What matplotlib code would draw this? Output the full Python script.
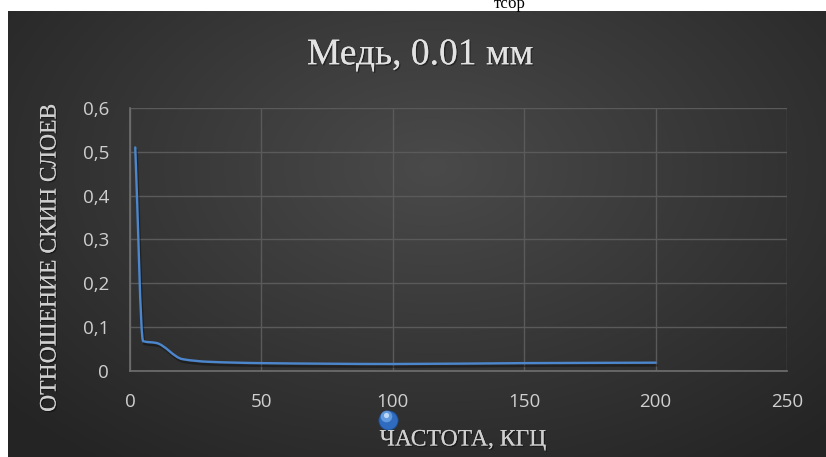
import matplotlib
matplotlib.use("Agg")
import matplotlib.pyplot as plt
import matplotlib.patheffects as pe
from matplotlib.path import Path
from matplotlib.patches import PathPatch
from matplotlib.ticker import FuncFormatter, MultipleLocator
import numpy as np

# частота, кГц / отношение скин слоев
freq = [2, 5, 10, 20, 30, 50, 100, 150, 200]
ratio = [0.51, 0.068, 0.064, 0.027, 0.021, 0.018, 0.016, 0.018, 0.019]

title = "Медь, 0.01 мм"
xlabel = "ЧАСТОТА, КГЦ"
ylabel = "ОТНОШЕНИЕ СКИН СЛОЕВ"

W, H = 826, 457
fig = plt.figure(figsize=(W / 100, H / 100), dpi=100)
fig.patch.set_facecolor("white")

# тёмный фон с радиальным градиентом
bg = fig.add_axes([8 / W, 0, (W - 8) / W, (H - 11) / H])
bg.set_axis_off()
gx, gy = np.meshgrid(np.linspace(0, 1, 400), np.linspace(0, 1, 220))
r = np.sqrt(((gx - 0.52) / 0.75) ** 2 + ((gy - 0.35) / 0.9) ** 2)
shade = np.clip(0.29 - 0.16 * r, 0.145, 0.29)
bg.imshow(np.dstack([shade] * 3), extent=[0, 1, 0, 1], aspect="auto",
          origin="upper", interpolation="bilinear")
bg.set_xlim(0, 1)
bg.set_ylim(0, 1)

# синий шарик под осью
bx, by = (388 - 8) / (W - 8), (H - 420) / (H - 11)
bg.scatter([bx], [by], s=190, color="#2f6cc0", edgecolor="#1d4f96", lw=0.6, zorder=3)
bg.scatter([bx - 0.002], [by + 0.008], s=70, color="#6fa6e6", lw=0, alpha=0.8, zorder=4)
bg.scatter([bx - 0.003], [by + 0.012], s=14, color="#d6e8ff", lw=0, alpha=0.8, zorder=5)

fig.text(510 / W, 1 - 8 / H, "тсбр", family="Liberation Serif", fontsize=12,
         color="black", ha="center", va="baseline")

ax = fig.add_axes([130 / W, 1 - 371 / H, 657 / W, 263 / H])
ax.patch.set_alpha(0)

# сглаженная кривая: монотонные кубические сплайны в виде кривых Безье
x = np.array(freq, float)
y = np.array(ratio, float)
h = np.diff(x)
d = np.diff(y) / h
m = np.zeros_like(x)
m[0], m[-1] = d[0], d[-1]
for k in range(1, len(x) - 1):
    if d[k - 1] * d[k] > 0:
        w1 = 2 * h[k] + h[k - 1]
        w2 = h[k] + 2 * h[k - 1]
        m[k] = (w1 + w2) / (w1 / d[k - 1] + w2 / d[k])
verts = [(x[0], y[0])]
codes = [Path.MOVETO]
for k in range(len(x) - 1):
    verts += [(x[k] + h[k] / 3, y[k] + m[k] * h[k] / 3),
              (x[k + 1] - h[k] / 3, y[k + 1] - m[k + 1] * h[k] / 3),
              (x[k + 1], y[k + 1])]
    codes += [Path.CURVE4] * 3
curve = PathPatch(Path(verts, codes), facecolor="none", edgecolor="#4c86cc",
                  lw=1.7, capstyle="round", zorder=3)
curve.set_path_effects([pe.SimpleLineShadow(offset=(1, -2), shadow_color="black", alpha=0.35),
                        pe.Normal()])
ax.add_patch(curve)

ax.set_xlim(0, 250)
ax.set_ylim(0, 0.6)
ax.xaxis.set_major_locator(MultipleLocator(50))
ax.yaxis.set_major_locator(MultipleLocator(0.1))
ax.yaxis.set_major_formatter(FuncFormatter(lambda v, p: "0" if abs(v) < 1e-9 else f"{v:.1f}".replace(".", ",")))
ax.grid(True, color="#5a5a5a", lw=1)
ax.set_axisbelow(True)
for s in ["top", "right"]:
    ax.spines[s].set_visible(False)
for s in ["left", "bottom"]:
    ax.spines[s].set_color("#6f6f6f")
    ax.spines[s].set_linewidth(1.2)
ax.tick_params(length=0, colors="#cfcfcf", labelsize=13.5, pad=15)
ax.tick_params(axis="x", pad=16)
for lab in ax.get_xticklabels() + ax.get_yticklabels():
    lab.set_family("Open Sans")

shadow = [pe.withSimplePatchShadow(offset=(1, -1), shadow_rgbFace="black", alpha=0.4), pe.Normal()]
fig.text(420 / W, 1 - 55 / H, title, family="Liberation Serif", fontsize=27,
         color="#e2e2e2", ha="center", va="center", path_effects=shadow)
fig.text(463 / W, 1 - 440 / H, xlabel, family="Liberation Serif", fontsize=17,
         color="#cfcfcf", ha="center", va="center", path_effects=shadow)
fig.text(50 / W, 1 - 258 / H, ylabel, family="Liberation Serif", fontsize=17,
         color="#cfcfcf", ha="center", va="center", rotation=90, path_effects=shadow)

fig.savefig("out.png", dpi=100)
